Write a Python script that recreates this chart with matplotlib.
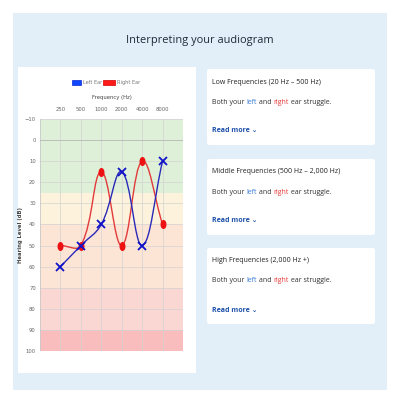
import numpy as np
import matplotlib
matplotlib.use("Agg")
import matplotlib.pyplot as plt
from matplotlib.path import Path
from matplotlib.patches import FancyBboxPatch, Rectangle, PathPatch

# data
freq_labels = ["250", "500", "1000", "2000", "4000", "8000"]
left_ear = [60, 50, 40, 15, 50, 10]
right_ear = [50, 50, 15, 50, 10, 40]
y_ticks = [-10, 0, 10, 20, 30, 40, 50, 60, 70, 80, 90, 100]
band_edges = [-10, 25, 40, 70, 90, 100]
band_colors = ["#dff0d9", "#fdf3dd", "#fde5d6", "#fbd7d4", "#fabdbd"]
card_titles = ["Low Frequencies (20 Hz \u2013 500 Hz)",
               "Middle Frequencies (500 Hz \u2013 2,000 Hz)",
               "High Frequencies (2,000 Hz +)"]

FONT = ["Open Sans", "DejaVu Sans", "Noto Sans"]
W = H = 400.0

fig = plt.figure(figsize=(4, 4), dpi=100)
fig.patch.set_facecolor("white")


def fx(x):
    return x / W


def fy(y):
    return 1 - y / H


# light blue panel
fig.patches.append(Rectangle((fx(13), fy(390)), fx(374), 377 / H, transform=fig.transFigure,
                             facecolor="#e3eff8", edgecolor="none", zorder=0))
# chart card
fig.patches.append(Rectangle((fx(18), fy(373)), fx(178), 306 / H, transform=fig.transFigure,
                             facecolor="white", edgecolor="none", zorder=0))
fig.text(0.5, fy(40), "Interpreting your audiogram", ha="center", va="center",
         fontsize=7.9, family=FONT, color="#1e2a38")

# cards on the right
card_tops = [67, 157, 246]
for top, title in zip(card_tops, card_titles):
    fig.patches.append(FancyBboxPatch((fx(207), fy(top + 78)), fx(168), 76 / H,
                                      boxstyle="round,pad=0,rounding_size=0.006",
                                      transform=fig.transFigure, facecolor="white",
                                      edgecolor="none", zorder=0))
    fig.text(fx(212), fy(top + 15), title, fontsize=5.0, family=FONT, color="#222222",
             va="center")
    fig.text(fx(212), fy(top + 64), "Read more \u2304", fontsize=5.0, family=FONT,
             color="#1b4fa8", weight="bold", va="center")

# multi coloured body lines
fig.canvas.draw()
renderer = fig.canvas.get_renderer()
for top in card_tops:
    x = fx(212)
    for piece, col in [("Both your ", "#333333"), ("left", "#3b7fd4"), (" and ", "#333333"),
                       ("right", "#e63b3b"), (" ear struggle.", "#333333")]:
        t = fig.text(x, fy(top + 35), piece, fontsize=5.0, family=FONT, color=col, va="center")
        bb = t.get_window_extent(renderer)
        x += bb.width / fig.bbox.width

# audiogram
ax = fig.add_axes([fx(40), fy(351), 143 / W, 232 / H])
ax.set_zorder(3)
ax.set_xlim(-1, len(freq_labels))
ax.set_ylim(100, -10)
for lo, hi, c in zip(band_edges[:-1], band_edges[1:], band_colors):
    ax.axhspan(lo, hi, color=c, lw=0, zorder=0)
xs = np.arange(len(freq_labels))
ax.set_xticks(xs)
ax.set_xticklabels(freq_labels)
ax.set_yticks(y_ticks)
ax.xaxis.tick_top()
ax.tick_params(axis="x", labelsize=3.8, colors="#666666", length=0, pad=5)
ax.tick_params(axis="y", labelsize=3.8, colors="#666666", length=0, pad=3)
ax.grid(True, color="#d2d2d2", lw=0.5, zorder=1)
for s in ax.spines.values():
    s.set_visible(False)
ax.axvline(-1, color="#c8c8c8", lw=0.6)
ax.axhline(0, color="#b8b8b8", lw=0.6)
ax.set_xlabel("Frequency (Hz)", fontsize=3.8, color="#444444", labelpad=6)
ax.xaxis.set_label_position("top")
ax.set_ylabel("Hearing Level (dB)", fontsize=3.8, color="#444444", weight="bold", labelpad=1)


def spline_path(xv, yv, tension=0.4):
    # chart.js-like bezier through the points, distances in pixel units
    sx, sy = 143 / 7.0, 232 / 110.0
    pts = np.column_stack([xv, yv]).astype(float)
    n = len(pts)
    cps = []
    for i in range(n):
        p0 = pts[max(i - 1, 0)]
        p1 = pts[i]
        p2 = pts[min(i + 1, n - 1)]
        d01 = np.hypot((p1[0] - p0[0]) * sx, (p1[1] - p0[1]) * sy)
        d12 = np.hypot((p2[0] - p1[0]) * sx, (p2[1] - p1[1]) * sy)
        tot = d01 + d12
        s01 = d01 / tot if tot else 0
        s12 = d12 / tot if tot else 0
        prev = p1 - tension * s01 * (p2 - p0)
        nxt = p1 + tension * s12 * (p2 - p0)
        cps.append((prev, nxt))
    verts = [pts[0]]
    codes = [Path.MOVETO]
    for i in range(n - 1):
        verts += [cps[i][1], cps[i + 1][0], pts[i + 1]]
        codes += [Path.CURVE4] * 3
    return Path(verts, codes)


ax.add_patch(PathPatch(spline_path(xs, right_ear), fill=False, edgecolor="#e23a3a", lw=1.0, zorder=3))
ax.add_patch(PathPatch(spline_path(xs, left_ear), fill=False, edgecolor="#2a2ab8", lw=1.0, zorder=4))

oval = Path.unit_circle()
oval = Path(oval.vertices * np.array([0.6, 1.0]), oval.codes)
ax.plot(xs, right_ear, ls="none", marker=oval, ms=5.5, color="#ee1111", zorder=5)
ax.plot(xs, left_ear, ls="none", marker="x", ms=6, mew=1.3, color="#1010c8", zorder=6)

# legend
fig.patches.append(Rectangle((fx(72), fy(85)), fx(9), 5 / H, transform=fig.transFigure,
                             facecolor="#1146ff", edgecolor="#0a2ad0", lw=0.5))
fig.text(fx(83), fy(82.5), "Left Ear", fontsize=3.6, color="#777777", va="center")
fig.patches.append(Rectangle((fx(103), fy(85)), fx(12), 5 / H, transform=fig.transFigure,
                             facecolor="#ff1a1a", edgecolor="#d00000", lw=0.5))
fig.text(fx(117), fy(82.5), "Right Ear", fontsize=3.6, color="#777777", va="center")

fig.savefig("out.png", dpi=100, facecolor="white")
